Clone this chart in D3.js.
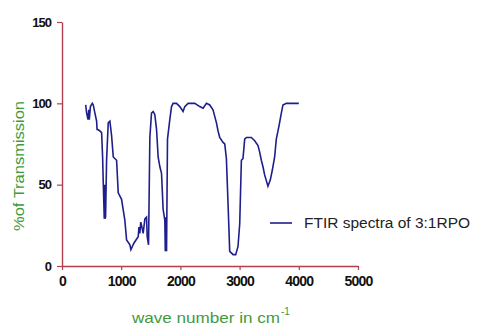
<!DOCTYPE html>
<html>
<head>
<meta charset="utf-8">
<script src="https://cdn.jsdelivr.net/npm/d3@7"></script>
<style>
  html, body { margin: 0; padding: 0; background: #fff; }
  svg { display: block; }
</style>
</head>
<body>
<svg id="chart" width="480" height="334"></svg>
<script>
// FTIR spectrum of 3:1 RPO: wave number (cm^-1) vs % transmission
const waveNumbers = [
  400, 416, 440, 452, 461, 480, 512, 528, 556, 585, 592, 600, 640, 669, 686, 697,
  714, 720, 728, 736, 753, 781, 809, 838, 866, 922, 950, 1006, 1062, 1091, 1147,
  1164, 1214, 1250, 1287, 1300, 1315, 1330, 1344, 1371, 1400, 1428, 1439, 1462,
  1484, 1512, 1540, 1568, 1597, 1624, 1653, 1681, 1708, 1737, 1745, 1754, 1766,
  1782, 1821, 1850, 1877, 1934, 1990, 2045, 2074, 2130, 2243, 2327, 2383, 2440,
  2496, 2551, 2580, 2609, 2636, 2664, 2720, 2749, 2777, 2804, 2833, 2890, 2934,
  2973, 3002, 3030, 3057, 3086, 3114, 3198, 3255, 3311, 3339, 3367, 3395, 3423,
  3479, 3519, 3553, 3592, 3620, 3665, 3705, 3732, 3789, 4000
];
const transmission = [
  99, 94, 90, 96, 90, 98, 100, 99, 94, 89, 84, 84, 83, 82, 67, 51,
  29, 50, 29, 30, 65, 88, 89, 80, 67, 65, 45, 41, 28, 16, 13,
  10, 14, 16, 18, 24, 20, 27, 25, 20, 29, 30, 18, 13,
  79, 94, 95, 93, 84, 67, 61, 57, 35, 28, 9, 30, 9,
  78, 90, 98, 100, 100, 98, 95, 98, 100, 100, 98, 97, 100,
  99, 96, 92, 88, 83, 79, 76, 75, 66, 39, 9, 7, 7,
  12, 26, 65, 66, 78, 79, 79, 77, 74, 70, 65, 61, 56,
  49, 53, 59, 67, 78, 86, 94, 99, 100, 100
];
const xTicks = [0, 1000, 2000, 3000, 4000, 5000];
const yTicks = [0, 50, 100, 150];
const seriesName = "FTIR spectra of 3:1RPO";

const svg = d3.select("#chart");
const axisColor = "#b2404e";
const lineColor = "#1f1f8a";
const labelGreen = "#3f9a3c";

const x = d3.scaleLinear().domain([0, 5000]).range([62, 358]);
const y = d3.scaleLinear().domain([0, 150]).range([266, 22]);

const points = waveNumbers.map((w, i) => ({ w, t: transmission[i] }));

// spectrum trace
const line = d3.line().x(d => x(d.w)).y(d => y(d.t));
svg.append("path")
  .datum(points)
  .attr("fill", "none")
  .attr("stroke", lineColor)
  .attr("stroke-width", 1.6)
  .attr("stroke-linejoin", "miter")
  .attr("d", line);

// x axis
const xAxis = svg.append("g")
  .attr("transform", `translate(0,${y(0)})`)
  .call(d3.axisBottom(x).tickValues(xTicks).tickSize(4).tickSizeOuter(0).tickFormat(d3.format("d")));
xAxis.select(".domain").attr("stroke", axisColor).attr("stroke-width", 1.4);
xAxis.selectAll(".tick line").attr("stroke", axisColor).attr("stroke-width", 1.2);
xAxis.selectAll(".tick text")
  .attr("y", 10)
  .attr("fill", "#111")
  .attr("font-family", "Liberation Sans, Arial, sans-serif")
  .attr("font-size", 14)
  .attr("font-weight", "bold")
  .attr("letter-spacing", -0.8);

// y axis
const yAxis = svg.append("g")
  .attr("transform", `translate(${x(0)},0)`)
  .call(d3.axisLeft(y).tickValues(yTicks).tickSize(5).tickSizeOuter(0));
yAxis.select(".domain").attr("stroke", axisColor).attr("stroke-width", 1.4);
yAxis.selectAll(".tick line").attr("stroke", axisColor).attr("stroke-width", 1.2);
yAxis.selectAll(".tick text")
  .attr("x", -11)
  .attr("fill", "#111")
  .attr("font-family", "Liberation Sans, Arial, sans-serif")
  .attr("font-size", 13)
  .attr("font-weight", "bold")
  .attr("letter-spacing", -1);

// axis titles
svg.append("text")
  .attr("transform", "translate(24,166) rotate(-90)")
  .attr("text-anchor", "middle")
  .attr("fill", labelGreen)
  .attr("font-family", "Liberation Sans, Arial, sans-serif")
  .attr("font-size", 15)
  .attr("textLength", 130)
  .attr("lengthAdjust", "spacingAndGlyphs")
  .text("%of Transmission");

const xTitle = svg.append("text")
  .attr("x", 132)
  .attr("y", 323)
  .attr("fill", labelGreen)
  .attr("font-family", "Liberation Sans, Arial, sans-serif")
  .attr("font-size", 15);
xTitle.append("tspan")
  .attr("textLength", 148)
  .attr("lengthAdjust", "spacingAndGlyphs")
  .text("wave number in cm");
xTitle.append("tspan")
  .attr("dy", -8)
  .attr("dx", 1)
  .attr("font-size", 10)
  .text("-1");

// legend
const legend = svg.append("g");
legend.append("line")
  .attr("x1", 270).attr("x2", 292)
  .attr("y1", 223).attr("y2", 223)
  .attr("stroke", lineColor)
  .attr("stroke-width", 1.6);
legend.append("text")
  .attr("x", 304)
  .attr("y", 228)
  .attr("fill", "#222")
  .attr("font-family", "Liberation Sans, Arial, sans-serif")
  .attr("font-size", 14)
  .attr("textLength", 166)
  .attr("lengthAdjust", "spacingAndGlyphs")
  .text(seriesName);
</script>
</body>
</html>
